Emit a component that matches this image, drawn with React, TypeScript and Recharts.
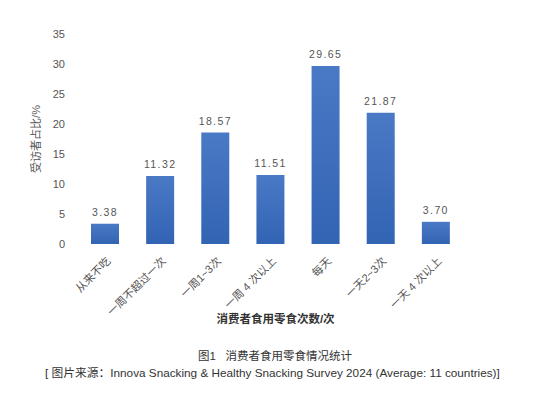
import React from 'react';
import { BarChart, Bar, XAxis, YAxis, LabelList } from 'recharts';

const categories = ['从来不吃', '一周不超过一次', '一周1~3次', '一周 4 次以上', '每天', '一天2~3次', '一天 4 次以上'];
const shares = [3.38, 11.32, 18.57, 11.51, 29.65, 21.87, 3.7];
const yTicks = [0, 5, 10, 15, 20, 25, 30, 35];
const boundaryTicks = [0, 1, 2, 3, 4, 5, 6, 7];

const data = categories.map((name, i) => ({ name, value: shares[i], pos: i + 0.5 }));

const FONT = '"Liberation Sans", Arial, "Noto Sans CJK SC", sans-serif';

const CategoryTick = (props: any) => {
  const { x, y, payload } = props;
  return (
    <g transform={`translate(${x + 4},${y + 7})`}>
      <text
        transform="rotate(-45)"
        textAnchor="end"
        dy={4}
        fontSize={11}
        fill="#555"
        fontFamily={FONT}
      >
        {payload.value}
      </text>
    </g>
  );
};

const YTitle = (props: any) => {
  const { viewBox } = props;
  const cx = viewBox.x + 16;
  const cy = viewBox.y + viewBox.height / 2;
  return (
    <text
      x={cx}
      y={cy}
      transform={`rotate(-90, ${cx}, ${cy})`}
      textAnchor="middle"
      dominantBaseline="central"
      fontSize={11}
      fill="#555555"
      stroke="none"
      fontFamily={FONT}
    >
      受访者占比/%
    </text>
  );
};

export default function App() {
  return (
    <div style={{ position: 'absolute', left: 0, top: 0, width: 533, height: 396, background: '#fff', fontFamily: FONT }}>
      <BarChart
        width={533}
        height={396}
        data={data}
        margin={{ top: 34, right: 70, left: 20, bottom: 62 }}
      >
        <defs>
          <linearGradient id="barFill" x1="0" y1="0" x2="0" y2="1">
            <stop offset="0%" stopColor="#4a79c5" />
            <stop offset="100%" stopColor="#3264b4" />
          </linearGradient>
        </defs>
        <XAxis
          xAxisId="edges"
          type="number"
          dataKey="pos"
          domain={[0, 7]}
          ticks={boundaryTicks}
          tickFormatter={() => ''}
          height={0}
          tickSize={5}
          stroke="#cfcfcf"
          tickLine={{ stroke: '#cfcfcf' }}
        />
        <XAxis
          dataKey="name"
          interval={0}
          axisLine={false}
          tickLine={false}
          tick={<CategoryTick />}
          height={90}
        />
        <YAxis
          domain={[0, 35]}
          ticks={yTicks}
          axisLine={false}
          tickLine={false}
          tickSize={0}
          tickMargin={12}
          width={57}
          tick={{ fontSize: 11, fill: '#555', fontFamily: FONT }}
          label={{ content: <YTitle /> }}
        />
        <Bar dataKey="value" fill="url(#barFill)" barSize={28} isAnimationActive={false}>
          <LabelList
            dataKey="value"
            position="top"
            offset={8}
            formatter={(v: any) => Number(v).toFixed(2)}
            style={{ fontSize: 10.5, fill: '#555', letterSpacing: 1.4, fontFamily: FONT }}
          />
        </Bar>
      </BarChart>
      <div style={{ position: 'absolute', left: 0, width: 551, top: 310, textAlign: 'center', fontSize: 11.5, fontWeight: 'bold', color: '#333' }}>
        消费者食用零食次数/次
      </div>
      <div style={{ position: 'absolute', left: 0, width: 550, top: 347, textAlign: 'center', fontSize: 11.5, color: '#333' }}>
        图1&nbsp;&nbsp;&nbsp;消费者食用零食情况统计
      </div>
      <div style={{ position: 'absolute', left: 45, top: 363, fontSize: 11.75, color: '#333', whiteSpace: 'nowrap' }}>
        [ 图片来源：Innova Snacking &amp; Healthy Snacking Survey 2024 (Average: 11 countries)]
      </div>
    </div>
  );
}
